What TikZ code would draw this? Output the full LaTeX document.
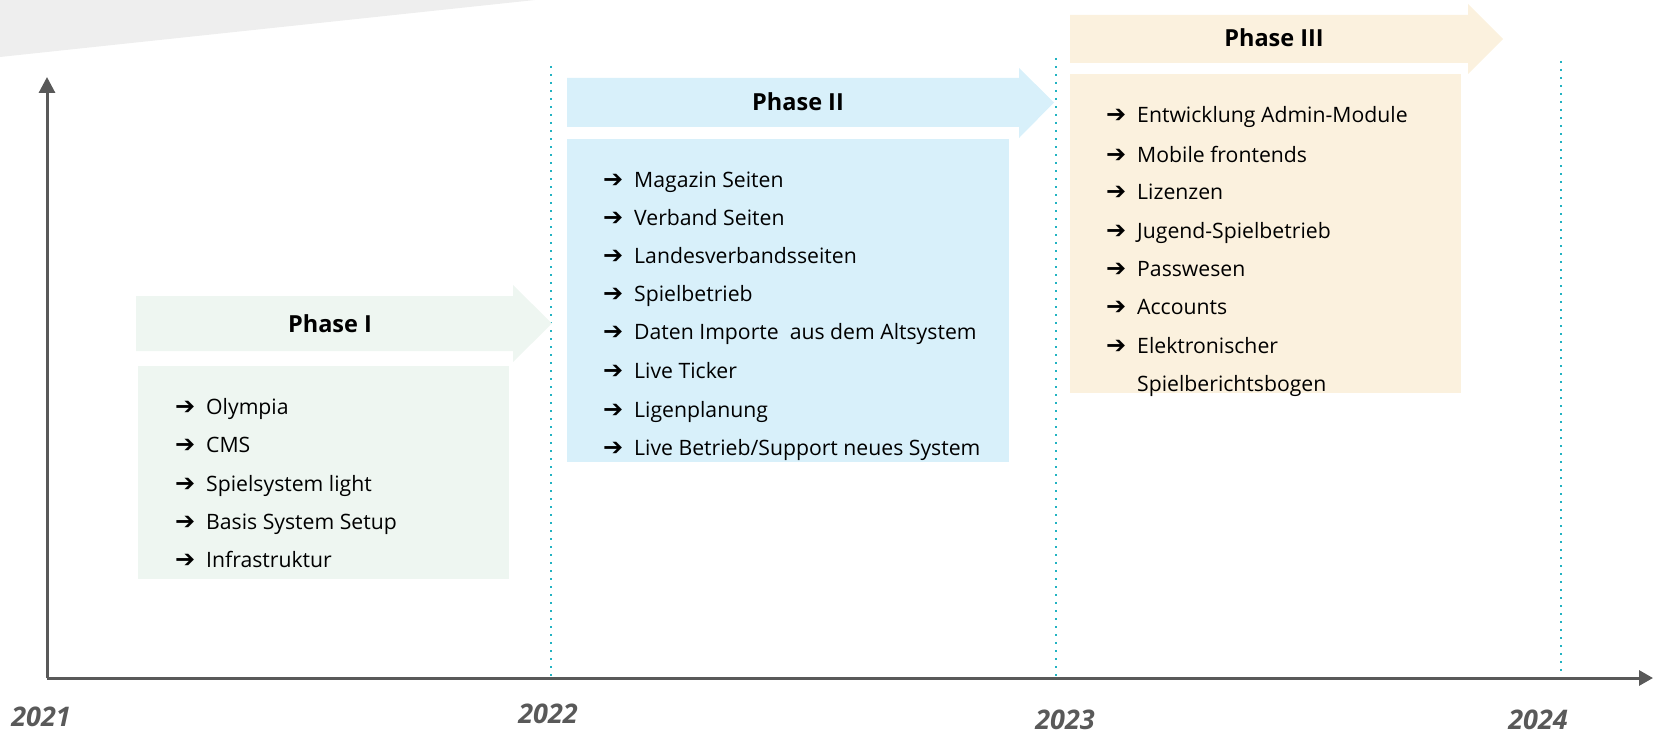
\documentclass[tikz,border=0pt]{standalone}
\usepackage{fontspec}
\setmainfont{Open Sans}
\newfontfamily\symfont{DejaVu Sans}
\usetikzlibrary{arrows.meta}
\definecolor{bggray}{HTML}{EEEEEE}
\definecolor{axisgray}{HTML}{595959}
\definecolor{teal}{HTML}{22B3C2}
\definecolor{ph1}{HTML}{EEF6F1}
\definecolor{ph2}{HTML}{D8F0FA}
\definecolor{ph3}{HTML}{FBF1DE}
\tikzset{
  axis/.style={draw=axisgray, line width=3pt},
  yearline/.style={draw=teal, line width=2pt, dash pattern=on 2pt off 6pt},
  year/.style={font=\fontsize{27}{31}\selectfont\bfseries\itshape, text=axisgray, anchor=base, inner sep=0pt},
  title/.style={font=\fontsize{23.5}{27}\selectfont\bfseries, anchor=base, inner sep=0pt},
  item/.style={font=\fontsize{21.2}{25}\selectfont, anchor=base west, inner sep=0pt},
  box/.style={anchor=north west, inner sep=0pt, draw=none},
}
\newcommand{\itm}[1]{\llap{{\symfont\fontsize{24}{25}\selectfont ➔}\hspace{11pt}}#1}
\begin{document}
\begin{tikzpicture}[x=1pt,y=-1pt]
\useasboundingbox (0,0) rectangle (1653,733);
% background wedge
\fill[bggray] (0,0) -- (535,0) -- (0,57) -- cycle;
% year guide lines
\coordinate (g1t) at (551,66);  \coordinate (g1b) at (551,678);
\coordinate (g2t) at (1056,58); \coordinate (g2b) at (1056,678);
\coordinate (g3t) at (1561,61); \coordinate (g3b) at (1561,678);
\draw[yearline] (g1t) -- (g1b);
\draw[yearline] (g2t) -- (g2b);
\draw[yearline] (g3t) -- (g3b);
% axes
\coordinate (O) at (47,678);
\coordinate (ytop) at (47,77);
\coordinate (xend) at (1653,678);
\draw[axis, -{Triangle[length=16pt,width=16pt]}] (O) -- (ytop);
\draw[axis, -{Triangle[length=14pt,width=15pt]}] (O) -- (xend);
% years
\node[year] (y2021) at (41,726) {2021};
\node[year] (y2022) at (548,723) {2022};
\node[year] (y2023) at (1065,729) {2023};
\node[year] (y2024) at (1538,729) {2024};
% Phase I
\fill[ph1] (136,296) -- (513,296) -- (513,285) -- (552,323.5) -- (513,362) -- (513,351) -- (136,351) -- cycle;
\node[title] (t1) at (330,332) {Phase I};
\node[box, fill=ph1, minimum width=371pt, minimum height=213pt] (b1) at (138,366) {};
\node[item] (i11) at (206,414) {\itm{Olympia}};
\node[item] (i12) at (206,452) {\itm{CMS}};
\node[item] (i13) at (206,491) {\itm{Spielsystem light}};
\node[item] (i14) at (206,529) {\itm{Basis System Setup}};
\node[item] (i15) at (206,567) {\itm{Infrastruktur}};
% Phase II
\fill[ph2] (567,78) -- (1019,78) -- (1019,68) -- (1054,102.5) -- (1019,138) -- (1019,127) -- (567,127) -- cycle;
\node[title] (t2) at (798,111) {Phase II};
\node[box, fill=ph2, minimum width=442pt, minimum height=323pt] (b2) at (567,139) {};
\node[item] (i21) at (634,187) {\itm{Magazin Seiten}};
\node[item] (i22) at (634,225) {\itm{Verband Seiten}};
\node[item] (i23) at (634,263) {\itm{Landesverbandsseiten}};
\node[item] (i24) at (634,301) {\itm{Spielbetrieb}};
\node[item] (i25) at (634,339) {\itm{Daten Importe\ \ aus dem Altsystem}};
\node[item] (i26) at (634,378) {\itm{Live Ticker}};
\node[item] (i27) at (634,417) {\itm{Ligenplanung}};
\node[item] (i28) at (634,455) {\itm{Live Betrieb/Support neues System}};
% Phase III
\fill[ph3] (1070,15) -- (1468,15) -- (1468,4) -- (1503,39) -- (1468,74) -- (1468,63) -- (1070,63) -- cycle;
\node[title] (t3) at (1274,47) {Phase III};
\node[box, fill=ph3, minimum width=391pt, minimum height=319pt] (b3) at (1070,74) {};
\node[item] (i31) at (1137,123) {\itm{Entwicklung Admin-Module}};
\node[item] (i32) at (1137,162) {\itm{Mobile frontends}};
\node[item] (i33) at (1137,199) {\itm{Lizenzen}};
\node[item] (i34) at (1137,238) {\itm{Jugend-Spielbetrieb}};
\node[item] (i35) at (1137,276) {\itm{Passwesen}};
\node[item] (i36) at (1137,314) {\itm{Accounts}};
\node[item] (i37) at (1137,353) {\itm{Elektronischer}};
\node[item] (i38) at (1137,391) {Spielberichtsbogen};
\end{tikzpicture}
\end{document}
